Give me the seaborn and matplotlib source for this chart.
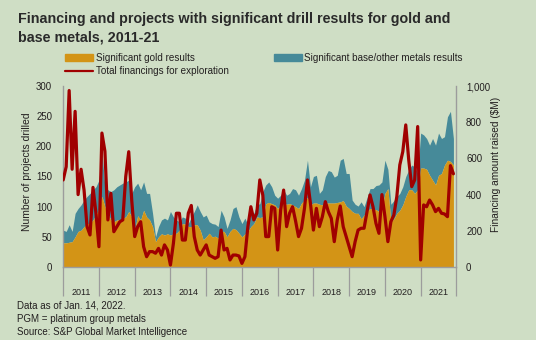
import numpy as np
import pandas as pd
import matplotlib
matplotlib.use("Agg")
import matplotlib.pyplot as plt
import seaborn as sns
from matplotlib.patches import Rectangle
from matplotlib.lines import Line2D

years = [str(y) for y in range(2011, 2022)]

# Projects with significant gold results (left axis)
gold = [
    40, 40, 41, 42, 50, 59, 61, 67, 72, 72, 78, 86,
    97, 117, 100, 89, 78, 75, 78, 78, 81, 83, 92, 83,
    62, 85, 78, 94, 83, 78, 67, 42, 50, 55, 53, 55,
    53, 55, 56, 61, 72, 71, 67, 67, 70, 70, 61, 45,
    50, 56, 50, 51, 48, 59, 59, 50, 59, 64, 62, 56,
    50, 55, 59, 67, 72, 83, 82, 83, 105, 107, 105, 103,
    97, 103, 105, 104, 105, 103, 100, 97, 106, 111, 115, 103,
    106, 106, 104, 103, 106, 106, 106, 106, 107, 108, 110, 101,
    97, 92, 89, 89, 80, 86, 92, 97, 96, 95, 92, 96,
    122, 130, 75, 80, 89, 94, 103, 117, 128, 128, 122, 128,
    164, 164, 162, 152, 144, 136, 152, 155, 169, 177, 175, 169,
]

# Gold + base/other metals (stack top, left axis)
total = [
    61, 59, 70, 59, 89, 97, 103, 111, 117, 122, 128, 133,
    144, 191, 133, 128, 125, 128, 133, 136, 139, 141, 144, 122,
    133, 139, 128, 141, 122, 122, 89, 50, 67, 78, 81, 78,
    92, 83, 78, 75, 83, 81, 72, 83, 92, 103, 92, 83,
    86, 75, 72, 71, 67, 94, 83, 64, 78, 97, 100, 83,
    72, 81, 70, 89, 89, 103, 105, 125, 136, 141, 133, 119,
    114, 119, 128, 119, 122, 130, 128, 119, 130, 144, 177, 133,
    150, 152, 122, 128, 150, 160, 158, 149, 152, 177, 180, 155,
    155, 111, 104, 101, 108, 100, 115, 130, 130, 135, 136, 141,
    177, 162, 104, 110, 117, 122, 133, 150, 161, 169, 166, 155,
    222, 219, 213, 202, 213, 202, 222, 213, 216, 249, 258, 213,
]

# Total financings for exploration, $M (right axis)
financing = [
    481, 554, 975, 540, 860, 400, 540, 425, 223, 177, 440, 297,
    112, 740, 640, 260, 407, 195, 223, 250, 260, 500, 637, 370,
    168, 223, 250, 112, 57, 85, 85, 76, 103, 66, 122, 94,
    11, 131, 297, 297, 149, 149, 297, 340, 168, 94, 66, 94,
    122, 66, 57, 48, 57, 204, 94, 103, 39, 66, 66, 61,
    20, 57, 223, 333, 260, 297, 481, 398, 168, 168, 333, 324,
    94, 315, 425, 223, 297, 333, 255, 168, 214, 324, 481, 352,
    204, 324, 223, 278, 361, 306, 269, 140, 260, 337, 223, 168,
    112, 57, 140, 204, 214, 214, 306, 398, 333, 241, 186, 400,
    280, 140, 250, 287, 389, 564, 637, 785, 591, 444, 481, 776,
    39, 343, 333, 370, 343, 306, 324, 297, 293, 278, 560, 515,
]

left_ticks = [0, 50, 100, 150, 200, 250, 300]
right_ticks = [0, 200, 400, 600, 800, 1000]
right_tick_labels = ["0", "200", "400", "600", "800", "1,000"]

df = pd.DataFrame({
    "month": np.arange(len(gold)),
    "gold": gold,
    "total": total,
    "financing": financing,
})

BG = "#cfdec5"
GOLD = "#d39416"
TEAL = "#468a99"
RED = "#a00000"
TXT = "#231f20"
SPINE = "#9c9c9c"

sns.set_theme(style="white")
plt.rcParams["font.family"] = ["Liberation Sans", "DejaVu Sans"]

W, H = 536, 340
fig = plt.figure(figsize=(W / 100, H / 100), dpi=100, facecolor=BG)

x0, x1, yb, yt = 63.2, 456.4, 267, 86
ax = fig.add_axes([x0 / W, 1 - yb / H, (x1 - x0) / W, (yb - yt) / H])
ax.set_facecolor(BG)

ax.fill_between(df["month"], df["gold"], df["total"], color=TEAL, lw=0)
ax.fill_between(df["month"], 0, df["gold"], color=GOLD, lw=0)
ax.set_xlim(0, 12 * len(years))
ax.set_ylim(0, 300)

ax2 = ax.twinx()
sns.lineplot(data=df, x="month", y="financing", ax=ax2, color=RED, lw=2.3,
             solid_joinstyle="round", solid_capstyle="round")
ax2.set_ylim(0, 1000)
ax2.set_xlim(0, 12 * len(years))

# x axis: long year separators, labels centred between them
ax.set_xticks(np.arange(0, 12 * len(years) + 1, 12))
ax.set_xticklabels([])
ax.set_xticks(np.arange(6, 12 * len(years), 12), minor=True)
ax.set_xticklabels(years, minor=True)
ax.tick_params(axis="x", which="major", length=21, width=0.9, color=SPINE,
               direction="out", bottom=True)
ax.tick_params(axis="x", which="minor", length=0, pad=15, labelsize=6.5,
               labelcolor=TXT, bottom=True)

ax.set_yticks(left_ticks)
ax.tick_params(axis="y", length=0, pad=8, labelsize=6.9, labelcolor=TXT)
ax2.set_yticks(right_ticks)
ax2.set_yticklabels(right_tick_labels)
ax2.tick_params(axis="y", length=0, pad=7, labelsize=6.9, labelcolor=TXT)

ax.set_xlabel("")
ax.set_ylabel("")
ax2.set_xlabel("")
ax2.set_ylabel("")

for a in (ax, ax2):
    for s in a.spines.values():
        s.set_visible(False)
ax.spines["left"].set_visible(True)
ax.spines["left"].set_color(SPINE)
ax.spines["left"].set_linewidth(1.0)
ax.spines["bottom"].set_visible(True)
ax.spines["bottom"].set_color(SPINE)
ax.spines["bottom"].set_linewidth(1.0)
ax2.spines["right"].set_visible(True)
ax2.spines["right"].set_color(SPINE)
ax2.spines["right"].set_linewidth(1.0)


def fx(px):
    return px / W


def fy(py):
    return 1 - py / H


# axis titles
fig.text(fx(27), fy(172), "Number of projects drilled", rotation=90,
         ha="center", va="center", fontsize=7.5, color=TXT)
fig.text(fx(496), fy(164), "Financing amount raised ($M)", rotation=90,
         ha="center", va="center", fontsize=7.3, color=TXT)

# title
TITLE_KW = dict(ha="left", va="baseline", fontsize=10.3, fontweight="bold", color="#2a2a2a")
fig.text(fx(17.5), fy(22.5), "Financing and projects with significant drill results for gold and", **TITLE_KW)
fig.text(fx(17.5), fy(41.5), "base metals, 2011-21", **TITLE_KW)

# legend
fig.patches.append(Rectangle((fx(65), fy(60.8)), fx(28), 6.5 / H, color=GOLD,
                             transform=fig.transFigure, figure=fig))
fig.patches.append(Rectangle((fx(273.5), fy(60.8)), fx(28), 6.5 / H, color=TEAL,
                             transform=fig.transFigure, figure=fig))
fig.lines.append(Line2D([fx(65), fx(93)], [fy(71), fy(71)], color=RED, lw=1.6,
                        transform=fig.transFigure, figure=fig))
fig.text(fx(96.4), fy(57.6), "Significant gold results", ha="left", va="center",
         fontsize=7.1, color=TXT)
fig.text(fx(303.6), fy(57.6), "Significant base/other metals results", ha="left",
         va="center", fontsize=7.1, color=TXT)
fig.text(fx(96.4), fy(71.2), "Total financings for exploration", ha="left",
         va="center", fontsize=7.1, color=TXT)

# footnotes
FOOT_KW = dict(ha="left", va="center", fontsize=7.0, color=TXT)
fig.text(fx(17), fy(305), "Data as of Jan. 14, 2022.", **FOOT_KW)
fig.text(fx(17), fy(319), "PGM = platinum group metals", **FOOT_KW)
fig.text(fx(17), fy(332), "Source: S&P Global Market Intelligence", **FOOT_KW)

fig.savefig("out.png", dpi=100, facecolor=BG)
